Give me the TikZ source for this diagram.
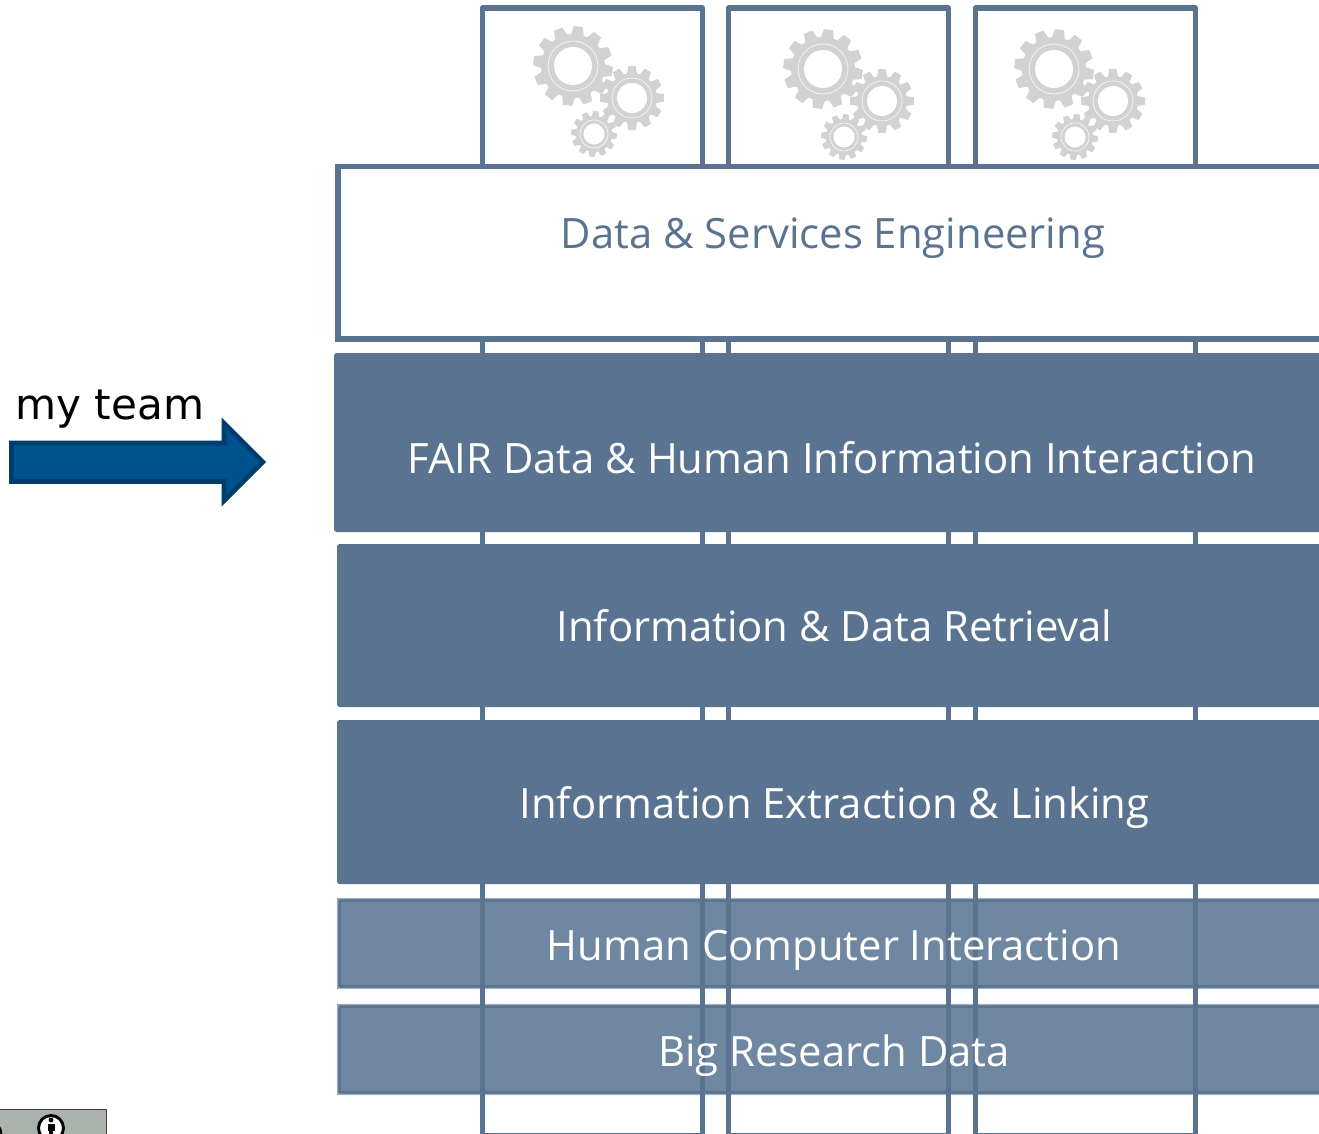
\documentclass[tikz,border=0pt]{standalone}
\usepackage{fontspec}
\setmainfont{Open Sans}
\newfontfamily\teamfont{DejaVu Sans}
\definecolor{slate}{HTML}{5A7390}
\definecolor{slatelight}{HTML}{6F87A0}
\definecolor{slatepale}{HTML}{A3B3C6}
\definecolor{gearc}{HTML}{D2D2D2}
\definecolor{arrowfill}{HTML}{00528F}
\definecolor{arrowline}{HTML}{003C6B}
\definecolor{badge}{HTML}{AAB2AB}
\tikzset{
  column/.style={draw=slate,line width=4.1pt,line join=round},
  darkbox/.style={fill=slate,rounded corners=2pt},
  lightbox/.style={fill=slatelight,draw=slate,line width=2.4pt},
  lightrim/.style={draw=slatepale,line width=1pt,rounded corners=1.5pt},
  label/.style={text=white,font=\fontsize{31.35}{36}\selectfont,inner sep=0pt,anchor=base},
}
% \gearshape{cx}{cy}{outer}{root}{ring}{hole}{teeth}{phase}
\newcommand{\gearshape}[8]{%
  \pgfmathsetmacro{\st}{360/#7}%
  \fill[gearc] ({#1+#4*cos(#8+0.38*\st)},{#2+#4*sin(#8+0.38*\st)})
  \foreach \k in {1,...,#7}{
    -- ({#1+#4*cos(#8+\k*\st-0.38*\st)},{#2+#4*sin(#8+\k*\st-0.38*\st)})
    -- ({#1+#3*cos(#8+\k*\st-0.22*\st)},{#2+#3*sin(#8+\k*\st-0.22*\st)})
    -- ({#1+#3*cos(#8+\k*\st+0.22*\st)},{#2+#3*sin(#8+\k*\st+0.22*\st)})
    -- ({#1+#4*cos(#8+\k*\st+0.38*\st)},{#2+#4*sin(#8+\k*\st+0.38*\st)})
  } -- cycle;
  \fill[white] (#1,#2) circle [radius=#6];
  \draw[white!85!gearc,line width=0.5pt] (#1,#2) circle [radius=#5];
}
\newcommand{\gearset}[2]{%
  \gearshape{573+#1}{66+#2}{40}{32}{25}{19}{12}{8}
  \gearshape{632+#1}{98+#2}{32}{25}{20}{15}{12}{0}
  \gearshape{594+#1}{134+#2}{23}{18}{14}{10.5}{12}{5}
}
\begin{document}
\begin{tikzpicture}[x=0.75pt,y=-0.75pt]
\useasboundingbox (0,0) rectangle (1319,1133);
\begin{scope}
\clip (0,0) rectangle (1319,1133);
% light layers lie under the columns
\path[lightbox] (339,900) rectangle (1330,987);
\path[lightrim] (337.5,898.5) rectangle (1330,988.5);
\path[lightbox] (339,1006) rectangle (1330,1093);
\path[lightrim] (337.5,1004.5) rectangle (1330,1094.5);
% columns
\draw[column] (482.5,8) rectangle (702.5,1136);
\draw[column] (728.5,8) rectangle (948.5,1136);
\draw[column] (975.5,8) rectangle (1195.5,1136);
% gears
\gearset{0}{0}
\gearset{250}{3}
\gearset{481}{3}
% layers above the columns
\path[fill=white,draw=slate,line width=4.1pt] (338,166.5) rectangle (1330,339);
\path[darkbox] (334,353) rectangle (1335,532);
\path[darkbox] (337,544) rectangle (1335,707);
\path[darkbox] (337,720) rectangle (1335,884);
\end{scope}
\node[label,text=slate] (engineering) at (833,248) {Data \& Services Engineering};
\node[label] (fair) at (832,473) {FAIR Data \& Human Information Interaction};
\node[label] (retrieval) at (834.5,641) {Information \& Data Retrieval};
\node[label] (extraction) at (834.5,818) {Information Extraction \& Linking};
\node[label] (hci) at (834,960) {Human Computer Interaction};
\node[label] (bigdata) at (834,1066) {Big Research Data};
\node[text=black,font=\teamfont\fontsize{31.6}{36}\selectfont,inner sep=0pt,anchor=base] (team) at (110,419) {my team};
\path[fill=arrowfill,draw=arrowline,line width=3.4pt,miter limit=10]
  (11.5,443) -- (224,443) -- (224,423) -- (263,462) -- (224,501) -- (224,481.5) -- (11.5,481.5) -- cycle;
% licence badge
\begin{scope}
\clip (0,0) rectangle (1319,1133);
\path[fill=badge,draw=black!75,line width=0.6pt] (-2,1109.5) rectangle (106.5,1140);
\path[fill=white,draw=black,line width=2.2pt] (51,1128) circle [radius=12.5];
\fill[black] (51,1120) circle [radius=2.4];
\fill[black] (47.5,1124) rectangle (54.5,1131);
\fill[black] (49,1131) rectangle (53,1140);
\draw[black,line width=2.2pt] (-11.5,1134) circle [radius=12.5];
\end{scope}
\end{tikzpicture}
\end{document}
